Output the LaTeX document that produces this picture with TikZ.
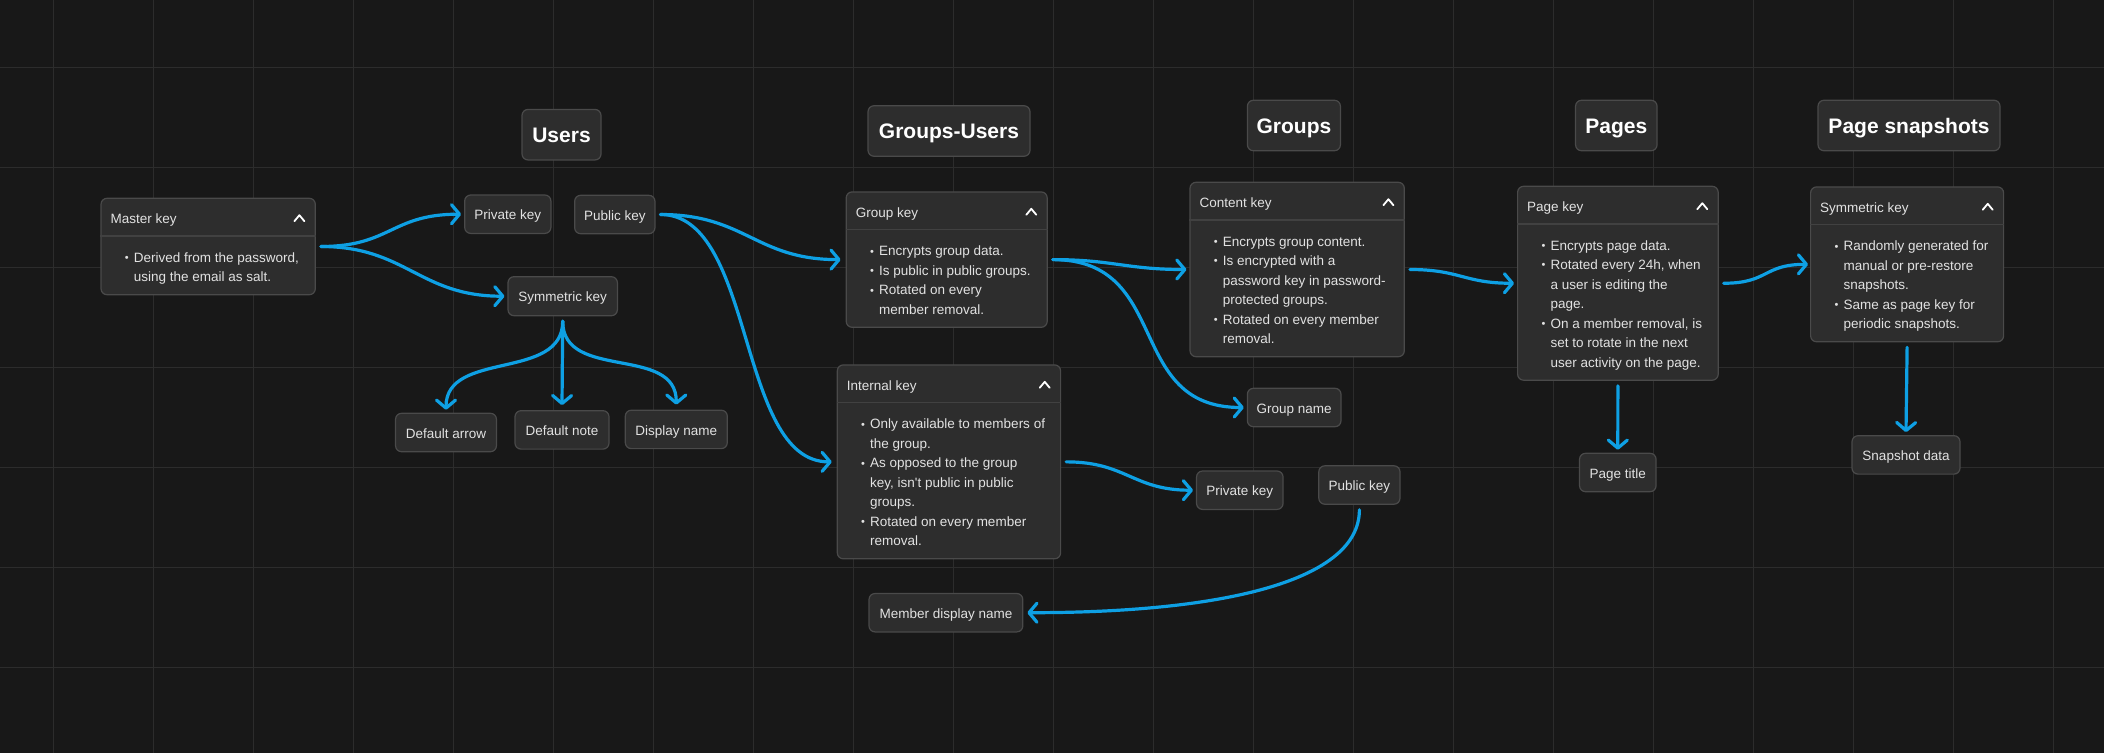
\documentclass[tikz,border=0pt]{standalone}
\usepackage{fontspec}
\setmainfont{Liberation Sans}
\usetikzlibrary{arrows.meta}

\definecolor{canvas}{HTML}{181818}
\definecolor{gridgray}{HTML}{2C2C2C}
\definecolor{boxfill}{HTML}{2D2D2D}
\definecolor{boxedge}{HTML}{4A4A4A}
\definecolor{ruleline}{HTML}{414141}
\definecolor{inktext}{HTML}{E2E2E2}
\definecolor{linkblue}{HTML}{0EA0E4}

\newcommand{\bul}{\strut\makebox[9pt][l]{\raisebox{0.6pt}{\fontsize{11}{11}\selectfont\textbullet}}}
\newcommand{\cont}{\strut\hspace*{9pt}}

\begin{document}
\begin{tikzpicture}[x=1pt,y=-1pt,
    keybox/.style={draw=boxedge, fill=boxfill, line width=1.2pt, rounded corners=6pt, inner sep=0pt,
      minimum height=38.4pt, text height=11.5pt, text depth=0pt, text=inktext, font=\fontsize{13.5}{16}\selectfont},
    titlebox/.style={keybox, minimum height=50.5pt, text height=15pt, text=white, font=\fontsize{21}{25}\selectfont\bfseries},
    card/.style={draw=boxedge, fill=boxfill, line width=1.2pt, rounded corners=6pt, inner sep=0pt, anchor=north west},
    cardhead/.style={anchor=base west, inner sep=0pt, text=inktext, font=\fontsize{13.5}{16}\selectfont},
    cardbody/.style={anchor=north west, inner sep=0pt, align=left, text=inktext, font=\fontsize{13.5}{19.5}\selectfont},
    cardrule/.style={draw=ruleline, line width=1.5pt},
    chevron/.style={draw=white, line width=1.8pt, line cap=round, line join=round},
    link/.style={draw=linkblue, line width=3.2pt, line cap=round, -{Straight Barb[length=8pt,width=19pt,round]}},
  ]
  % background and grid
  \useasboundingbox (0,0) rectangle (2104,753);
  \fill[canvas] (0,0) rectangle (2104,753);
  \foreach \gx in {53.6,153.6,...,2053.6}
    \draw[gridgray, line width=1pt] (\gx,0) -- (\gx,753);
  \foreach \gy in {67.3,167.3,...,667.3}
    \draw[gridgray, line width=1pt] (0,\gy) -- (2104,\gy);

  % column titles
  \node[titlebox, minimum width=79pt] (users) at (561.5,134.7) {Users};
  \node[titlebox, minimum width=162pt] (groupsusers) at (949,131) {Groups-Users};
  \node[titlebox, minimum width=93pt] (groups) at (1293.9,125.5) {Groups};
  \node[titlebox, minimum width=81.5pt] (pages) at (1616.3,125.5) {Pages};
  \node[titlebox, minimum width=182pt] (snapshots) at (1909,125.5) {Page snapshots};

  % master key
  \node[card, minimum width=214.3pt, minimum height=96.4pt] (master) at (100.4,197.7) {};
  \node[cardhead] (master-head) at ([xshift=10pt,yshift=-25.8pt]master.north west) {Master key};
  \draw[cardrule] ([yshift=-38.4pt]master.north west) -- ([yshift=-38.4pt]master.north east);
  \draw[chevron] ([xshift=-21.5pt,yshift=-23.5pt]master.north east) -- ++(5,-6) -- ++(5,6);
  \node[cardbody] (master-body) at ([xshift=24.3pt,yshift=-50.5pt]master.north west)
    {\bul Derived from the password,\\ \cont using the email as salt.};

  % users
  \node[keybox, minimum width=86.2pt] (privu) at (507.8,214.2) {Private key};
  \node[keybox, minimum width=80.3pt] (pubu) at (614.8,214.5) {Public key};
  \node[keybox, minimum width=109.4pt, minimum height=39pt] (symu) at (562.7,296.2) {Symmetric key};
  \node[keybox, minimum width=100.9pt] (defarrow) at (446,432.5) {Default arrow};
  \node[keybox, minimum width=94pt] (defnote) at (562,429.9) {Default note};
  \node[keybox, minimum width=102pt] (dispname) at (676.3,429.4) {Display name};

  % groups-users
  \node[card, minimum width=201pt, minimum height=135.4pt] (gkey) at (845.6,191.3) {};
  \node[cardhead] (gkey-head) at ([xshift=10pt,yshift=-25.8pt]gkey.north west) {Group key};
  \draw[cardrule] ([yshift=-38.4pt]gkey.north west) -- ([yshift=-38.4pt]gkey.north east);
  \draw[chevron] ([xshift=-21.5pt,yshift=-23.5pt]gkey.north east) -- ++(5,-6) -- ++(5,6);
  \node[cardbody] (gkey-body) at ([xshift=24.3pt,yshift=-50.5pt]gkey.north west)
    {\bul Encrypts group data.\\ \bul Is public in public groups.\\ \bul Rotated on every\\ \cont member removal.};

  \node[card, minimum width=223.3pt, minimum height=193.9pt] (ikey) at (836.7,364.3) {};
  \node[cardhead] (ikey-head) at ([xshift=10pt,yshift=-25.8pt]ikey.north west) {Internal key};
  \draw[cardrule] ([yshift=-38.4pt]ikey.north west) -- ([yshift=-38.4pt]ikey.north east);
  \draw[chevron] ([xshift=-21.5pt,yshift=-23.5pt]ikey.north east) -- ++(5,-6) -- ++(5,6);
  \node[cardbody] (ikey-body) at ([xshift=24.3pt,yshift=-50.5pt]ikey.north west)
    {\bul Only available to members of\\ \cont the group.\\ \bul As opposed to the group\\
     \cont key, isn\textquotesingle t public in public\\ \cont groups.\\ \bul Rotated on every member\\ \cont removal.};

  \node[keybox, minimum width=153.8pt] (memname) at (945.9,612.7) {Member display name};

  % groups
  \node[card, minimum width=214.3pt, minimum height=174.4pt] (ckey) at (1189.4,181.7) {};
  \node[cardhead] (ckey-head) at ([xshift=10pt,yshift=-25.8pt]ckey.north west) {Content key};
  \draw[cardrule] ([yshift=-38.4pt]ckey.north west) -- ([yshift=-38.4pt]ckey.north east);
  \draw[chevron] ([xshift=-21.5pt,yshift=-23.5pt]ckey.north east) -- ++(5,-6) -- ++(5,6);
  \node[cardbody] (ckey-body) at ([xshift=24.3pt,yshift=-50.5pt]ckey.north west)
    {\bul Encrypts group content.\\ \bul Is encrypted with a\\ \cont password key in password-\\
     \cont protected groups.\\ \bul Rotated on every member\\ \cont removal.};

  \node[keybox, minimum width=93.6pt] (gname) at (1294.2,407.5) {Group name};
  \node[keybox, minimum width=86.5pt] (privg) at (1239.8,490.2) {Private key};
  \node[keybox, minimum width=81.2pt] (pubg) at (1359.4,485) {Public key};

  % pages
  \node[card, minimum width=200.6pt, minimum height=193.9pt] (pkey) at (1517,185.7) {};
  \node[cardhead] (pkey-head) at ([xshift=10pt,yshift=-25.8pt]pkey.north west) {Page key};
  \draw[cardrule] ([yshift=-38.4pt]pkey.north west) -- ([yshift=-38.4pt]pkey.north east);
  \draw[chevron] ([xshift=-21.5pt,yshift=-23.5pt]pkey.north east) -- ++(5,-6) -- ++(5,6);
  \node[cardbody] (pkey-body) at ([xshift=24.3pt,yshift=-50.5pt]pkey.north west)
    {\bul Encrypts page data.\\ \bul Rotated every 24h, when\\ \cont a user is editing the\\ \cont page.\\
     \bul On a member removal, is\\ \cont set to rotate in the next\\ \cont user activity on the page.};

  \node[keybox, minimum width=76.5pt] (ptitle) at (1617.8,472.5) {Page title};

  % page snapshots
  \node[card, minimum width=193pt, minimum height=154.9pt] (skey) at (1810,186.3) {};
  \node[cardhead] (skey-head) at ([xshift=10pt,yshift=-25.8pt]skey.north west) {Symmetric key};
  \draw[cardrule] ([yshift=-38.4pt]skey.north west) -- ([yshift=-38.4pt]skey.north east);
  \draw[chevron] ([xshift=-21.5pt,yshift=-23.5pt]skey.north east) -- ++(5,-6) -- ++(5,6);
  \node[cardbody] (skey-body) at ([xshift=24.3pt,yshift=-50.5pt]skey.north west)
    {\bul Randomly generated for\\ \cont manual or pre-restore\\ \cont snapshots.\\
     \bul Same as page key for\\ \cont periodic snapshots.};

  \node[keybox, minimum width=108pt] (sdata) at (1906,454.9) {Snapshot data};

  % links
  \draw[link] ([xshift=5pt]master.east) .. controls +(70,0) and +(-70,0) .. ([xshift=-3pt]privu.west);
  \draw[link] ([xshift=5pt]master.east) .. controls +(85,0) and +(-85,0) .. ([xshift=-3pt]symu.west);
  \draw[link] ([yshift=-5pt]symu.south) .. controls +(0,60) and +(0,-60) .. ([yshift=3pt]defarrow.north);
  \draw[link] ([yshift=-5pt]symu.south) -- ([yshift=5pt]defnote.north);
  \draw[link] ([yshift=-5pt]symu.south) .. controls +(0,60) and +(0,-60) .. ([yshift=5pt]dispname.north);
  \draw[link] ([xshift=5pt]pubu.east) .. controls +(85,0) and +(-85,0) .. ([xshift=-5pt]gkey.west);
  \draw[link] ([xshift=5pt]pubu.east) .. controls +(95,0) and +(-95,0) .. ([xshift=-5pt]ikey.west);
  \draw[link] ([xshift=5pt]gkey.east) .. controls +(60,0) and +(-60,0) .. ([xshift=-3pt]ckey.west);
  \draw[link] ([xshift=5pt]gkey.east) .. controls +(120,0) and +(-120,0) .. ([xshift=-3pt]gname.west);
  \draw[link] ([xshift=5pt]ikey.east) .. controls +(60,0) and +(-60,0) .. ([xshift=-3pt]privg.west);
  \draw[link] ([yshift=-5pt]pubg.south) .. controls +(0,70) and +(200,0) .. ([xshift=4pt]memname.east);
  \draw[link] ([xshift=5pt]ckey.east) .. controls +(50,0) and +(-50,0) .. ([xshift=-3pt]pkey.west);
  \draw[link] ([xshift=5pt]pkey.east) .. controls +(45,0) and +(-45,0) .. ([xshift=-2pt]skey.west);
  \draw[link] ([yshift=-5pt]pkey.south) -- ([yshift=3pt]ptitle.north);
  \draw[link] ([yshift=-5pt]skey.south) -- ([yshift=3pt]sdata.north);
\end{tikzpicture}
\end{document}
